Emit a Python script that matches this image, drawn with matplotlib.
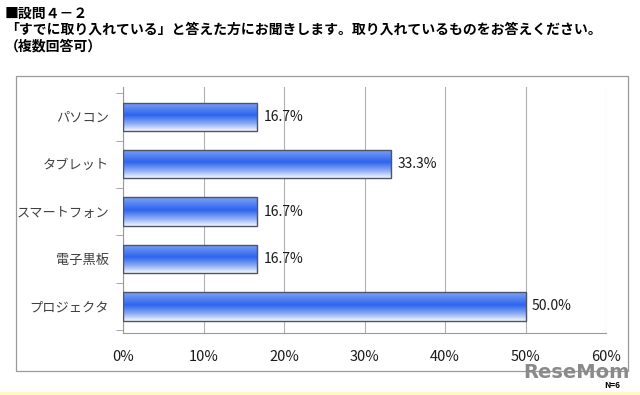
import numpy as np
import matplotlib.pyplot as plt
from matplotlib.colors import LinearSegmentedColormap
from matplotlib.patches import Rectangle

plt.rcParams['font.family'] = ['Noto Sans CJK JP', 'DejaVu Sans']

# data
categories = ['パソコン', 'タブレット', 'スマートフォン', '電子黒板', 'プロジェクタ']
values = [16.7, 33.3, 16.7, 16.7, 50.0]
xticks = [0, 10, 20, 30, 40, 50, 60]
title_lines = ['■設問４－２',
               '「すでに取り入れている」と答えた方にお聞きします。取り入れているものをお答えください。',
               '（複数回答可）']

fig = plt.figure(figsize=(6.4, 3.95), dpi=100)
fig.patch.set_facecolor('white')

# outer chart frame
fig.add_artist(Rectangle((16 / 640, 1 - 371 / 395), 612 / 640, 295 / 395,
                         transform=fig.transFigure, fill=False,
                         edgecolor='#9a9a9a', linewidth=0.9))
# bottom yellow band
fig.add_artist(Rectangle((0, 0), 1, 3 / 395, transform=fig.transFigure,
                         facecolor='#fff8c8', edgecolor='none'))

ax = fig.add_axes([123 / 640, 1 - 333 / 395, 483 / 640, 246 / 395])

grad = LinearSegmentedColormap.from_list(
    'bar', [(0.0, '#7ea2f4'), (0.45, '#2e64ee'), (0.75, '#8eadf5'), (1.0, '#f4f7fe')])
gimg = np.linspace(0, 1, 100).reshape(-1, 1)

y = np.arange(len(categories))
bars = ax.barh(y, values, height=0.6, color='none', edgecolor='#4b5468',
               linewidth=1.0, zorder=3)
for b, v in zip(bars, values):
    x0, y0 = b.get_x(), b.get_y()
    w, h = b.get_width(), b.get_height()
    im = ax.imshow(gimg, cmap=grad, aspect='auto', origin='upper',
                   extent=[x0, x0 + w, y0 + h, y0], zorder=2)
    im.set_clip_path(b)
    ax.text(v + 0.8, b.get_y() + h / 2, f'{v:.1f}%', va='center', ha='left',
            fontsize=10, color='#1a1a1a')

ax.set_xlim(0, 60)
ax.set_ylim(4.56, -0.63)
ax.set_xticks(xticks)
ax.set_xticklabels([f'{t}%' for t in xticks], fontsize=10.5, color='#1a1a1a')
ax.tick_params(axis='x', length=0, pad=12)
ax.set_yticks(y)
ax.set_yticklabels(categories, fontsize=9.5, color='#404040')
ax.tick_params(axis='y', length=0, pad=10)
ax.set_yticks(np.arange(-0.5, len(categories), 1), minor=True)
ax.tick_params(axis='y', which='minor', length=5, color='#9a9a9a', direction='out')
ax.grid(axis='x', color='#b0b0b0', linewidth=0.8, zorder=0)
ax.set_axisbelow(True)
for s in ['top', 'right']:
    ax.spines[s].set_visible(False)
for s in ['left', 'bottom']:
    ax.spines[s].set_color('#9a9a9a')

# title
for i, line in enumerate(title_lines):
    fig.text(5 / 640, 1 - (14 + 16 * i) / 395, line, fontsize=10,
             fontweight='bold', va='center', ha='left', color='black')

# watermark and sample size
fig.text(630 / 640, 1 - 372 / 395, 'ReseMom', fontsize=14, fontweight='bold',
         color='#8a8a8a', ha='right', va='center', family='DejaVu Sans')
fig.text(620 / 640, 1 - 386 / 395, 'N=6', fontsize=6, fontweight='bold',
         color='black', ha='right', va='center')

fig.savefig('out.png', dpi=100)
